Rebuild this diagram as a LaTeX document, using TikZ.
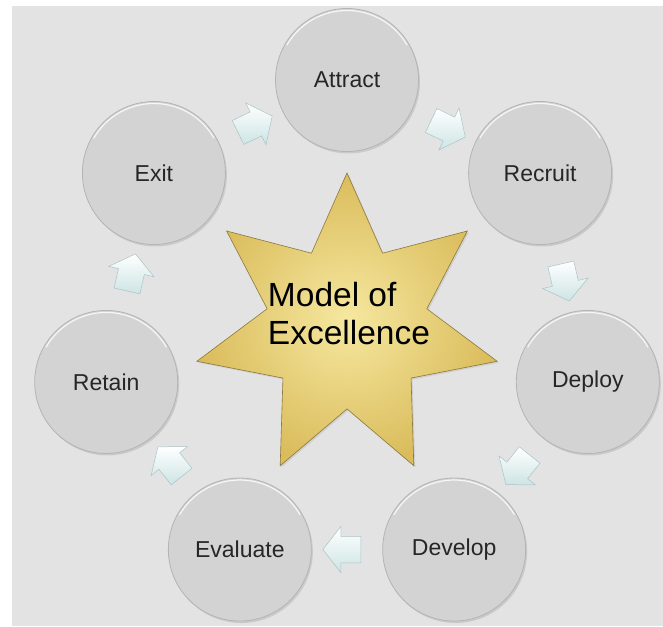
\documentclass[tikz,border=0pt]{standalone}
\usepackage{fontspec}
\setmainfont{Liberation Sans}
\usetikzlibrary{shapes.geometric, shapes.arrows, shadows, calc}
\definecolor{canvasgray}{RGB}{227, 227, 227}
\definecolor{stagegray}{RGB}{211, 211, 211}
\definecolor{stageedge}{RGB}{180, 180, 180}
\definecolor{stargold}{RGB}{218, 188, 92}
\definecolor{starlight}{RGB}{246, 232, 160}
\definecolor{staredge}{RGB}{140, 120, 60}
\definecolor{flowcyan}{RGB}{205, 228, 228}
\definecolor{flowedge}{RGB}{170, 196, 196}

\tikzset{
    stage/.style={circle, minimum size=143pt, inner sep=0pt, fill=stagegray,
        draw=stageedge, line width=0.8pt, text=black!85,
        font=\fontsize{23}{27}\selectfont,
        drop shadow={opacity=0.25, shadow xshift=1.5pt, shadow yshift=-2pt}},
    flow/.style={single arrow, minimum height=38pt, minimum width=46pt,
        single arrow head extend=10pt, single arrow tip angle=104, inner sep=13pt,
        top color=white, bottom color=flowcyan, draw=flowedge, line width=0.5pt},
    modelstar/.style={star, star points=7, star point ratio=1.88,
        minimum size=308pt, inner sep=0pt, inner color=starlight,
        outer color=stargold, draw=staredge, line width=0.6pt,
        drop shadow={opacity=0.2, shadow xshift=1.5pt, shadow yshift=-1.5pt}},
    startext/.style={align=left, font=\fontsize{33.5}{38}\selectfont}
}

\begin{document}
\begin{tikzpicture}[x=1pt, y=1pt]
    % Canvas and margins
    \useasboundingbox (-347,-299) rectangle (316,327);
    \fill[canvasgray] (-335,-299) rectangle (316,321);

    % Central star
    \node[modelstar] (mstar) at (0,0) {};
    \node[startext] (mtext) at (2,13) {Model of\\Excellence};

    % Stages round the ring, clockwise from the top
    \foreach \name/\txt [count=\i from 0] in {attract/Attract, recruit/Recruit,
        deploy/Deploy, develop/Develop, evaluate/Evaluate, retain/Retain, exit/Exit}
    {
        \node[stage] (\name) at ({90-360/7*\i}:247) {\txt};
        \draw[white, opacity=0.8, line width=1.2pt]
            ([shift={(150:69.5)}]\name.center) arc[start angle=150, end angle=30, radius=69.5];
    }

    % Block arrows between neighbouring stages
    \foreach \a/\b [count=\i from 0] in {attract/recruit, recruit/deploy,
        deploy/develop, develop/evaluate, evaluate/retain, retain/exit, exit/attract}
    {
        \node[flow, rotate={-25.714-360/7*\i}] (flow\i) at ($(\a)!0.5!(\b)$) {};
    }
\end{tikzpicture}
\end{document}
